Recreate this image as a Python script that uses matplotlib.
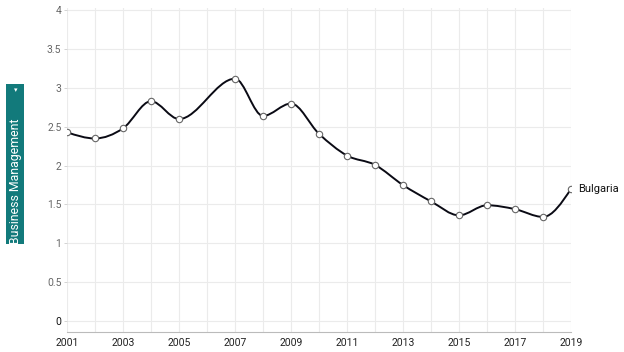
import numpy as np
import matplotlib
matplotlib.use("Agg")
import matplotlib.pyplot as plt
from matplotlib.path import Path
from matplotlib.patches import PathPatch, Rectangle

years = [2001, 2002, 2003, 2004, 2005, 2007, 2008, 2009, 2010, 2011, 2012,
         2013, 2014, 2015, 2016, 2017, 2018, 2019]
values = [2.43, 2.35, 2.48, 2.83, 2.60, 3.12, 2.64, 2.80, 2.41, 2.13, 2.01,
          1.75, 1.54, 1.36, 1.49, 1.44, 1.34, 1.70]
series_name = "Bulgaria"
panel_label = "Business Management"
x_ticks = [2001, 2003, 2005, 2007, 2009, 2011, 2013, 2015, 2017, 2019]
y_ticks = [0, 0.5, 1, 1.5, 2, 2.5, 3, 3.5, 4]
y_tick_labels = ["0", "0.5", "1", "1.5", "2", "2.5", "3", "3.5", "4"]

plt.rcParams['font.family'] = ['Roboto', 'DejaVu Sans']

fig = plt.figure(figsize=(6.24, 3.52), dpi=100)
W, H = 624, 352
ax = fig.add_axes([67 / W, 1 - 332 / H, (571 - 67) / W, (332 - 8) / H])

x = np.array(years, dtype=float)
y = np.array(values, dtype=float)
n = len(x)

# monotone-X tangents (d3 style)
t = np.zeros(n)
for i in range(1, n - 1):
    h0 = x[i] - x[i - 1]
    h1 = x[i + 1] - x[i]
    s0 = (y[i] - y[i - 1]) / h0
    s1 = (y[i + 1] - y[i]) / h1
    p = (s0 * h1 + s1 * h0) / (h0 + h1)
    t[i] = (np.sign(s0) + np.sign(s1)) * min(abs(s0), abs(s1), 0.5 * abs(p))
h = x[1] - x[0]
t[0] = (3 * (y[1] - y[0]) / h - t[1]) / 2
h = x[-1] - x[-2]
t[-1] = (3 * (y[-1] - y[-2]) / h - t[-2]) / 2

verts = [(x[0], y[0])]
codes = [Path.MOVETO]
for i in range(n - 1):
    dx = (x[i + 1] - x[i]) / 3
    verts += [(x[i] + dx, y[i] + dx * t[i]),
              (x[i + 1] - dx, y[i + 1] - dx * t[i + 1]),
              (x[i + 1], y[i + 1])]
    codes += [Path.CURVE4] * 3
ax.add_patch(PathPatch(Path(verts, codes), facecolor='none', edgecolor='#0a0a14',
                       lw=1.4, zorder=3))
ax.plot(x, y, linestyle='none', marker='o', markersize=4.6,
        markerfacecolor='white', markeredgecolor='#666666', markeredgewidth=0.8,
        zorder=4)

ax.set_xlim(2001, 2019)
ax.set_ylim(-0.142, 4.03)
ax.set_xticks(np.arange(2001, 2020), minor=True)
ax.set_xticks(x_ticks)
ax.set_xticklabels([str(v) for v in x_ticks])
ax.set_yticks(y_ticks)
ax.set_yticklabels(y_tick_labels)
ax.grid(True, which='both', axis='x', color='#ebebeb', lw=0.8)
ax.grid(True, which='major', axis='y', color='#ebebeb', lw=0.8)
ax.set_axisbelow(True)
for s in ['top', 'right', 'left']:
    ax.spines[s].set_visible(False)
ax.spines['bottom'].set_color('#bbbbbb')
ax.spines['bottom'].set_linewidth(0.8)
ax.tick_params(axis='x', which='both', length=0, pad=4.5, labelsize=7.5,
               labelcolor='#222222')
ax.tick_params(axis='y', length=2, width=0.6, color='#cccccc', pad=2,
               labelsize=7.5, labelcolor='#666666')
ax.get_yticklabels()[0].set_color('#111111')

ax.annotate(series_name, xy=(x[-1], y[-1]), xytext=(5, 0),
            textcoords='offset points', va='center', ha='left',
            fontsize=8, color='#111111', annotation_clip=False)

# side panel label
fig.patches.append(Rectangle((6 / W, 1 - 244 / H), 18 / W, 160 / H,
                             transform=fig.transFigure, facecolor='#127a7b',
                             edgecolor='none'))
fig.text(15.5 / W, 1 - 181 / H, panel_label, rotation=90, color='white',
         fontsize=8.8, ha='center', va='center')
fig.text(15.5 / W, 1 - 90 / H, '\u25BE', color='white', fontsize=5,
         ha='center', va='center', family=['DejaVu Sans'])

fig.savefig('out.png', dpi=100)
